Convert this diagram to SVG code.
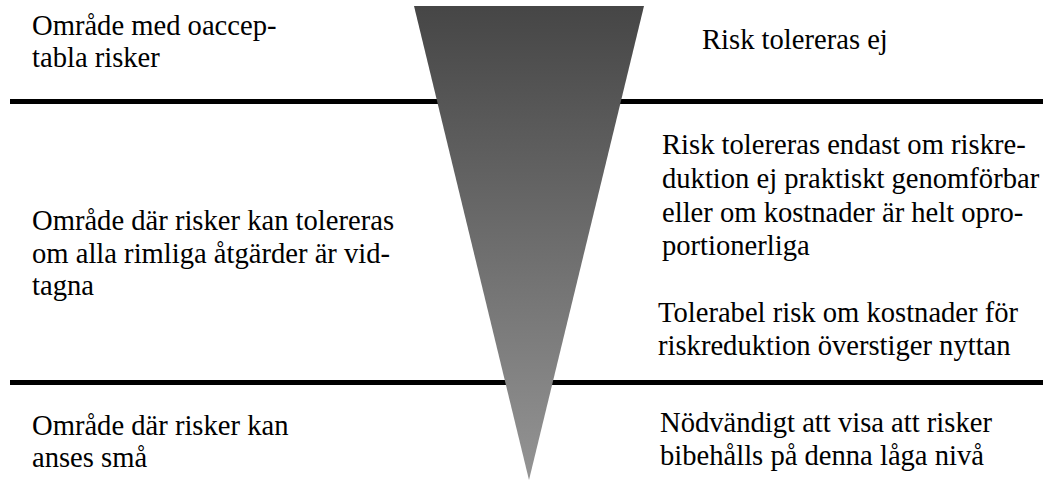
<svg xmlns="http://www.w3.org/2000/svg" width="1050" height="481" viewBox="0 0 1050 481">
  <style>
    .lbl { font-family: 'Liberation Serif', 'Times New Roman', serif; font-size: 28.6px; fill: #000; }
    .sep { stroke: #000; stroke-width: 5; fill: none; }
  </style>
  <defs>
    <linearGradient id="riskGrad" x1="0" y1="0" x2="0" y2="1">
      <stop offset="0" stop-color="#464646"/>
      <stop offset="1" stop-color="#949494"/>
    </linearGradient>
  </defs>
  <rect width="1050" height="481" fill="#fff"/>

  <!-- zone boundaries -->
  <g id="connectors">
    <line class="sep" x1="10" y1="101.5" x2="1043" y2="101.5"/>
    <line class="sep" x1="10" y1="382.5" x2="1043" y2="382.5"/>
  </g>

  <!-- risk funnel -->
  <g id="funnel">
    <polygon points="414,6 644,6 529,480" fill="url(#riskGrad)"/>
  </g>

  <!-- left column: zones -->
  <g id="zone-unacceptable">
    <text class="lbl" x="32" y="35">Område med oaccep-</text>
    <text class="lbl" x="32" y="67">tabla risker</text>
  </g>
  <g id="zone-tolerable">
    <text class="lbl" x="32" y="230">Område där risker kan tolereras</text>
    <text class="lbl" x="32" y="263">om alla rimliga åtgärder är vid-</text>
    <text class="lbl" x="32" y="295">tagna</text>
  </g>
  <g id="zone-small">
    <text class="lbl" x="32" y="435">Område där risker kan</text>
    <text class="lbl" x="32" y="467">anses små</text>
  </g>

  <!-- right column: conditions -->
  <g id="cond-not-tolerated">
    <text class="lbl" x="702" y="49">Risk tolereras ej</text>
  </g>
  <g id="cond-tolerated-if">
    <text class="lbl" x="662" y="154">Risk tolereras endast om riskre-</text>
    <text class="lbl" x="662" y="188">duktion ej praktiskt genomförbar</text>
    <text class="lbl" x="662" y="222">eller om kostnader är helt opro-</text>
    <text class="lbl" x="662" y="255">portionerliga</text>
  </g>
  <g id="cond-tolerable">
    <text class="lbl" x="658" y="322">Tolerabel risk om kostnader för</text>
    <text class="lbl" x="658" y="355">riskreduktion överstiger nyttan</text>
  </g>
  <g id="cond-maintain">
    <text class="lbl" x="660" y="432">Nödvändigt att visa att risker</text>
    <text class="lbl" x="660" y="465">bibehålls på denna låga nivå</text>
  </g>
</svg>
